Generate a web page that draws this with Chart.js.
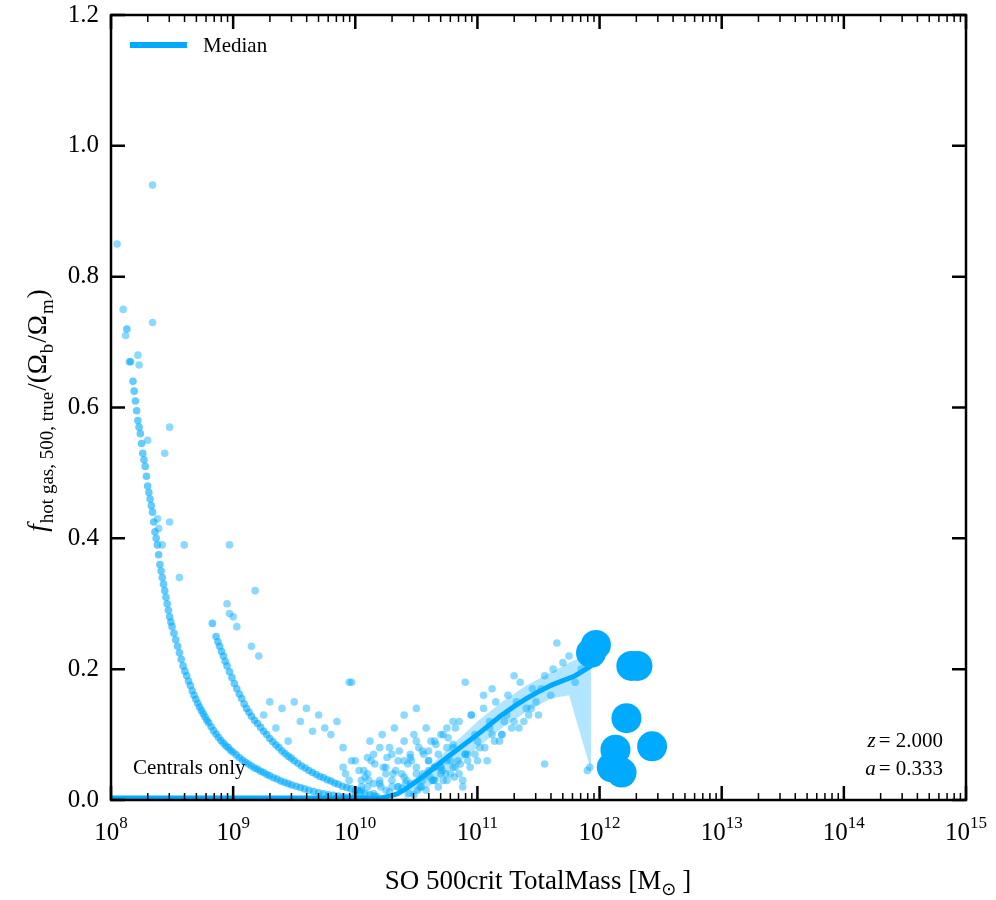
<!DOCTYPE html>
<html><head><meta charset="utf-8">
<script src="https://cdn.jsdelivr.net/npm/chart.js@4.4.0/dist/chart.umd.min.js"></script>
<style>html,body{margin:0;padding:0;background:#fff}#w{width:996px;height:900px}</style>
</head><body><div id="w"><canvas id="c"></canvas></div>
<script>
// log10(M) and f values
const curveA_logM=[8.13,8.16,8.18,8.2,8.22,8.24,8.26,8.28,8.30,8.32,8.34,8.36,8.38,8.40,8.42,8.44,8.46,8.48,8.50,8.53,8.56,8.59,8.62,8.65,8.68,8.71,8.74,8.77,8.80,8.84,8.88,8.92,8.96,9.00,9.05,9.10,9.15,9.20,9.25,9.30,9.36,9.42,9.48,9.55,9.62,9.70,9.78,9.86,9.94,10.02];
const curveA_f=[0.72,0.67,0.64,0.61,0.58,0.56,0.53,0.51,0.48,0.46,0.44,0.41,0.39,0.36,0.34,0.32,0.30,0.28,0.265,0.245,0.225,0.205,0.19,0.175,0.16,0.148,0.137,0.127,0.118,0.106,0.096,0.087,0.08,0.073,0.065,0.058,0.052,0.047,0.042,0.037,0.032,0.027,0.023,0.019,0.015,0.011,0.008,0.006,0.004,0.002];
const curveA2_logM=[8.19,8.21,8.23,8.25,8.27,8.29,8.31,8.33,8.35,8.37,8.39,8.41,8.43,8.45,8.47,8.49,8.515,8.545,8.575,8.605,8.635,8.665,8.695,8.725,8.755,8.785,8.82,8.86,8.90,8.94,8.98,9.025,9.075,9.125,9.175,9.225,9.275,9.33,9.39,9.45,9.515,9.585,9.66,9.74,9.82,9.90,9.98,10.06];
const curveA2_f=[0.625,0.595,0.57,0.545,0.52,0.495,0.47,0.45,0.425,0.40,0.375,0.35,0.33,0.31,0.29,0.272,0.255,0.235,0.215,0.197,0.182,0.167,0.154,0.142,0.132,0.122,0.112,0.101,0.091,0.083,0.076,0.069,0.061,0.055,0.049,0.044,0.039,0.034,0.029,0.025,0.021,0.017,0.013,0.0095,0.007,0.005,0.003,0.002];
const curveB_logM=[8.83,8.86,8.89,8.92,8.95,8.99,9.03,9.07,9.11,9.15,9.20,9.25,9.30,9.35,9.40,9.45,9.50,9.56,9.62,9.68,9.74,9.80,9.86,9.93,10.0,10.08,10.16];
const curveB_f=[0.27,0.25,0.235,0.22,0.205,0.187,0.17,0.155,0.14,0.128,0.117,0.105,0.094,0.084,0.075,0.067,0.06,0.052,0.045,0.039,0.034,0.029,0.024,0.019,0.015,0.01,0.006];
const curveB2_logM=[8.875,8.905,8.935,8.97,9.01,9.05,9.09,9.13,9.175,9.225,9.275,9.325,9.375,9.425,9.475,9.53,9.59,9.65,9.71,9.77,9.83,9.895,9.965,10.04,10.12];
const curveB2_f=[0.242,0.227,0.212,0.196,0.178,0.162,0.147,0.134,0.122,0.111,0.1,0.089,0.08,0.071,0.064,0.056,0.049,0.042,0.036,0.031,0.026,0.021,0.017,0.012,0.008];
const scatter_logM=[8.05,8.1,8.12,8.15,8.22,8.23,8.3,8.34,8.34,8.38,8.39,8.44,8.48,8.48,8.42,8.6,8.56,8.97,8.95,8.97,9.0,9.03,9.18,9.15,9.21,9.3,9.25,9.4,9.5,9.6,9.7,9.55,9.8,9.85,9.65,9.95,9.97,9.45,9.35,9.75,9.9,
9.9,9.95,10.0,10.05,10.1,10.12,10.15,10.2,10.22,10.25,10.28,10.3,10.32,10.35,10.38,10.4,10.42,10.45,10.48,10.5,10.52,10.55,10.58,10.6,10.62,10.65,10.68,10.7,10.72,10.75,10.78,10.8,10.85,10.9,
10.0,10.05,10.1,10.15,10.2,10.25,10.3,10.35,10.4,10.45,10.5,10.55,10.6,10.65,10.7,10.75,10.8,10.18,10.28,10.38,10.48,10.58,10.08,10.33,10.43,10.53,10.63,10.23,10.13,10.03,
10.6,10.65,10.7,10.75,10.8,10.85,10.9,10.95,11.0,11.05,11.1,11.15,11.2,11.25,11.3,11.35,11.4,11.45,11.5,11.55,11.6,11.7,11.8,11.9,10.72,10.82,10.92,11.02,11.12,11.22,11.32,11.42,11.52,11.62,11.75,10.68,10.78,10.88,10.98,11.08,11.18,11.28,11.38,11.48,11.12,10.95,11.05,11.3,11.65,11.85,11.9,11.92,11.55,10.9,10.5,10.4,
9.92,9.97,10.02,10.07,10.11,10.16,10.21,10.26,10.31,10.36,10.41,10.46,10.51,10.56,10.61,10.66,10.71,10.76,10.81,10.86,10.1,10.2,10.3,10.4,10.5,10.6,10.7,10.8,10.25,10.35,10.45,10.55,10.65,10.75,10.15,10.05,10.44,10.54,10.64,10.74,10.84,10.94,10.88,10.98,11.06,11.14,11.24,11.34,11.44,11.0,11.1,11.2,10.82,10.92];
const scatter_f=[0.85,0.75,0.71,0.67,0.68,0.665,0.55,0.94,0.73,0.43,0.415,0.53,0.57,0.425,0.39,0.39,0.34,0.39,0.30,0.285,0.28,0.265,0.32,0.235,0.22,0.15,0.13,0.14,0.15,0.14,0.13,0.12,0.10,0.12,0.105,0.18,0.18,0.09,0.11,0.11,0.08,
0.05,0.03,0.06,0.02,0.04,0.09,0.07,0.03,0.10,0.05,0.08,0.02,0.11,0.06,0.04,0.09,0.03,0.07,0.10,0.05,0.08,0.04,0.11,0.06,0.09,0.03,0.07,0.05,0.10,0.08,0.06,0.12,0.04,0.07,
0.01,0.015,0.02,0.01,0.025,0.015,0.03,0.02,0.035,0.025,0.04,0.03,0.045,0.05,0.04,0.06,0.05,0.005,0.012,0.018,0.008,0.015,0.035,0.045,0.055,0.02,0.03,0.05,0.06,0.045,
0.06,0.09,0.05,0.11,0.08,0.12,0.07,0.13,0.09,0.14,0.11,0.15,0.10,0.16,0.12,0.18,0.14,0.17,0.13,0.19,0.16,0.21,0.18,0.22,0.03,0.05,0.06,0.08,0.10,0.12,0.15,0.13,0.17,0.2,0.22,0.02,0.04,0.03,0.07,0.06,0.09,0.11,0.12,0.15,0.17,0.13,0.16,0.19,0.24,0.2,0.045,0.05,0.055,0.18,0.14,0.13,
0.04,0.06,0.015,0.045,0.03,0.055,0.02,0.065,0.04,0.075,0.025,0.06,0.015,0.07,0.035,0.085,0.045,0.095,0.035,0.055,0.065,0.08,0.07,0.06,0.09,0.075,0.1,0.085,0.04,0.02,0.065,0.075,0.05,0.03,0.025,0.03,0.01,0.02,0.03,0.04,0.06,0.05,0.02,0.1,0.08,0.09,0.13,0.11,0.14,0.06,0.12,0.1,0.11,0.07];
const median_logM=[8.0,9.0,9.8,10.0,10.2,10.35,10.55,10.75,11.0,11.2,11.4,11.6,11.8,11.93];
const median_f=[0.003,0.003,0.003,0.003,0.003,0.01,0.035,0.065,0.1,0.13,0.155,0.175,0.19,0.205];
const band_logM=[10.4,10.6,10.8,11.0,11.2,11.4,11.6,11.75,11.93];
const band_lo=[0.0,0.02,0.05,0.08,0.11,0.135,0.155,0.16,0.045];
const band_hi=[0.02,0.05,0.085,0.12,0.15,0.175,0.195,0.21,0.225];
const big_logM=[11.93,11.97,12.26,12.31,12.22,12.13,12.43,12.10,12.18];
const big_f=[0.225,0.237,0.205,0.205,0.125,0.077,0.082,0.050,0.042];
const xTicks=[8,9,10,11,12,13,14,15];
const yTicks=[0,0.2,0.4,0.6,0.8,1.0,1.2];

const C='#00aaff';
const SC='rgba(0,170,255,0.45)';
const SC2='rgba(0,170,255,0.6)';
const pts=(a,b)=>a.map((v,i)=>({x:Math.pow(10,v),y:b[i]}));
const SER='"Liberation Serif","DejaVu Serif",serif';
const frame={id:'frame',afterDraw(ch){
  const g=ch.ctx,a=ch.chartArea,xs=ch.scales.x,ys=ch.scales.y;
  g.save();g.strokeStyle='#000';g.fillStyle='#000';
  g.lineWidth=1.5;
  for(let d=8;d<15;d++)for(let m=2;m<10;m++){const px=xs.getPixelForValue(m*Math.pow(10,d));
    g.beginPath();g.moveTo(px,a.bottom);g.lineTo(px,a.bottom-7);g.moveTo(px,a.top);g.lineTo(px,a.top+7);g.stroke();}
  g.lineWidth=2.5;
  xTicks.forEach(d=>{const px=xs.getPixelForValue(Math.pow(10,d));
    g.beginPath();g.moveTo(px,a.bottom);g.lineTo(px,a.bottom-14);g.moveTo(px,a.top);g.lineTo(px,a.top+14);g.stroke();
    g.font='25px '+SER;const w1=g.measureText('10').width;g.font='17px '+SER;const w2=g.measureText(String(d)).width;
    const s=px-(w1+w2)/2;g.textAlign='left';g.textBaseline='alphabetic';g.font='25px '+SER;g.fillText('10',s,a.bottom+40);
    g.font='17px '+SER;g.fillText(String(d),s+w1,a.bottom+28);});
  yTicks.forEach(v=>{const py=ys.getPixelForValue(v);
    g.beginPath();g.moveTo(a.left,py);g.lineTo(a.left+14,py);g.moveTo(a.right,py);g.lineTo(a.right-14,py);g.stroke();
    g.font='25px '+SER;g.textAlign='right';g.textBaseline='middle';g.fillText(v.toFixed(1),a.left-12,py);});
  g.lineWidth=2.5;g.strokeRect(a.left,a.top,a.right-a.left,a.bottom-a.top);
  g.strokeStyle=C;g.lineWidth=6;g.beginPath();g.moveTo(130,45);g.lineTo(187,45);g.stroke();
  g.fillStyle='#000';g.textAlign='left';g.textBaseline='middle';g.font='21px '+SER;g.fillText('Median',203,46);
  g.fillText('Centrals only',133,768);
  g.textAlign='right';
  const rt=(lbl,val,y)=>{g.font='21px '+SER;g.fillText('= '+val,943,y);const w=g.measureText('= '+val).width;g.font='italic 21px '+SER;g.fillText(lbl,943-w-3,y);};
  rt('z','2.000',741);rt('a','0.333',769);
  g.textAlign='left';g.textBaseline='alphabetic';g.font='27px '+SER;
  const t1='SO 500crit TotalMass [M',t3=']';
  const w1=g.measureText(t1).width;g.font='18px "DejaVu Sans",sans-serif';const w2=g.measureText('⊙').width+2;g.font='27px '+SER;const w3=g.measureText(t3).width+4;
  let sx=538-(w1+w2+w3)/2;g.fillText(t1,sx,889);g.font='18px "DejaVu Sans",sans-serif';g.fillText('⊙',sx+w1,895);g.font='27px '+SER;g.fillText(t3,sx+w1+w2+4,889);
  g.translate(46,410);g.rotate(-Math.PI/2);
  const parts=[['f','italic 27px',0],['hot gas, 500, true','19px',7],['/(Ω','27px',0],['b','19px',7],['/Ω','27px',0],['m','19px',7],[')','27px',0]];
  let tw=0;parts.forEach(p=>{g.font=p[1]+' '+SER;tw+=g.measureText(p[0]).width+1;});
  let cx=-tw/2;parts.forEach(p=>{g.font=p[1]+' '+SER;g.fillText(p[0],cx,p[2]);cx+=g.measureText(p[0]).width+1;});
  g.restore();}};
const sc=(a,b,col)=>({data:pts(a,b),backgroundColor:col||SC,borderWidth:0,pointRadius:3.8});
new Chart(document.getElementById('c'),{
  type:'scatter',
  data:{datasets:[
    sc(curveA_logM,curveA_f,SC2),sc(curveA2_logM,curveA2_f,SC2),sc(curveB_logM,curveB_f,SC2),sc(curveB2_logM,curveB2_f,SC2),sc(scatter_logM,scatter_f),
    {type:'line',data:pts(band_logM,band_lo),borderWidth:0,pointRadius:0,fill:false,backgroundColor:'rgba(0,170,255,0.3)'},
    {type:'line',data:pts(band_logM,band_hi),borderWidth:0,pointRadius:0,fill:'-1',backgroundColor:'rgba(0,170,255,0.3)'},
    {type:'line',data:pts(median_logM,median_f),borderColor:C,borderWidth:5,pointRadius:0,fill:false,tension:0.15},
    {data:pts(big_logM,big_f),backgroundColor:C,borderWidth:0,pointRadius:15}
  ]},
  options:{responsive:true,maintainAspectRatio:false,animation:false,
    layout:{padding:{left:111,right:30,top:14,bottom:100}},
    plugins:{legend:{display:false},tooltip:{enabled:false}},
    scales:{x:{type:'logarithmic',min:1e8,max:1e15,display:false},y:{min:0,max:1.2,display:false}}},
  plugins:[frame]});
</script></body></html>
